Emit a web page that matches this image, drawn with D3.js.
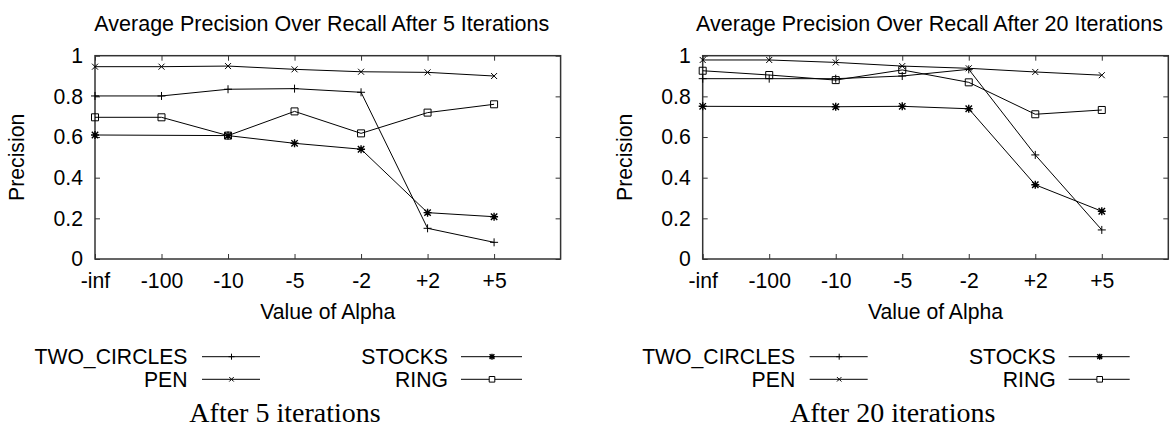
<!DOCTYPE html>
<html>
<head>
<meta charset="utf-8">
<script src="https://cdn.jsdelivr.net/npm/d3@7"></script>
<style>
  body { margin: 0; background: #fff; }
  svg { display: block; font-family: "Liberation Sans", Arial, sans-serif; }
</style>
</head>
<body>
<script>
// * DATA
const alphaLabels = ["-inf", "-100", "-10", "-5", "-2", "+2", "+5"];
const yTicks = [0, 0.2, 0.4, 0.6, 0.8, 1];
const seriesNames = ["TWO_CIRCLES", "PEN", "STOCKS", "RING"];
const seriesMarks = ["plus", "cross", "star", "square"];

// after 5 iterations (STOCKS has no -100 point)
const twoCircles5 = [0.802, 0.802, 0.835, 0.838, 0.820, 0.151, 0.082];
const pen5 = [0.946, 0.946, 0.949, 0.933, 0.921, 0.918, 0.900];
const stocks5 = [0.610, null, 0.607, 0.569, 0.540, 0.228, 0.208];
const ring5 = [0.697, 0.697, 0.607, 0.726, 0.618, 0.720, 0.761];

// after 20 iterations
const twoCircles20 = [0.887, 0.887, 0.887, 0.900, 0.933, 0.512, 0.143];
const pen20 = [0.979, 0.979, 0.967, 0.949, 0.938, 0.920, 0.904];
const stocks20 = [0.751, null, 0.749, 0.751, 0.739, 0.365, 0.235];
const ring20 = [0.926, 0.905, 0.880, 0.930, 0.869, 0.712, 0.733];

const panels = [
	{ title: "Average Precision Over Recall After 5 Iterations", caption: "After 5 iterations", left: 95, series: [twoCircles5, pen5, stocks5, ring5] },
	{ title: "Average Precision Over Recall After 20 Iterations", caption: "After 20 iterations", left: 702.7, series: [twoCircles20, pen20, stocks20, ring20] },
];

const w = 1176;
const h = 427;
const plotW = 465.6;
const plotTop = 55.7;
const plotBottom = 259;
const fs = 21.2;
const sansFont = "Liberation Sans, Arial, sans-serif";
const serifFont = "Liberation Serif, Times New Roman, serif";

const svg = d3.select("body").append("svg").attr("width", w).attr("height", h);

// marker path, s = half size
function markerPath(type, x, y, s) {
	const p = d3.path();
	if (type === "plus" || type === "star") {
		p.moveTo(x - s, y); p.lineTo(x + s, y);
		p.moveTo(x, y - s); p.lineTo(x, y + s);
	}
	if (type === "cross" || type === "star") {
		const c = type === "star" ? s * 0.8 : s * 0.75;
		p.moveTo(x - c, y - c); p.lineTo(x + c, y + c);
		p.moveTo(x - c, y + c); p.lineTo(x + c, y - c);
	}
	if (type === "square") {
		p.rect(x - s, y - s, 2 * s, 2 * s);
	}
	return p.toString();
}

panels.forEach((panel) => {
	const g = svg.append("g").attr("transform", "translate(" + panel.left + ",0)");

	// * SCALES
	const xScale = d3.scaleLinear().domain([0, 7]).range([0, plotW]);
	const yScale = d3.scaleLinear().domain([0, 1]).range([plotBottom, plotTop]);
	const idx = d3.range(alphaLabels.length);

	// * AXES (gnuplot style: inward ticks, mirrored)
	const xAxis = d3.axisBottom(xScale).tickValues(idx).tickSize(-5).tickPadding(14)
		.tickFormat((d) => alphaLabels[d]);
	const xAxisTop = d3.axisTop(xScale).tickValues(idx).tickSize(-5).tickFormat("");
	const yAxis = d3.axisLeft(yScale).tickValues(yTicks).tickSize(-5).tickPadding(12)
		.tickFormat((d) => d3.format("")(d));
	const yAxisRight = d3.axisRight(yScale).tickValues(yTicks).tickSize(-5).tickFormat("");

	g.append("g").attr("transform", "translate(0," + plotBottom + ")").call(xAxis);
	g.append("g").attr("transform", "translate(0," + plotTop + ")").call(xAxisTop);
	g.append("g").call(yAxis);
	g.append("g").attr("transform", "translate(" + plotW + ",0)").call(yAxisRight);
	g.selectAll(".domain").remove();
	g.selectAll(".tick line").attr("stroke", "#333").attr("stroke-width", 1);
	g.selectAll(".tick text").attr("font-size", fs).attr("font-family", sansFont).attr("fill", "#000");

	g.append("rect")
		.attr("x", 0).attr("y", plotTop)
		.attr("width", plotW).attr("height", plotBottom - plotTop)
		.attr("fill", "none").attr("stroke", "#333").attr("stroke-width", 1.5);

	// * LINES + MARKERS
	const line = d3.line().x((d) => xScale(d[0])).y((d) => yScale(d[1]));
	panel.series.forEach((vals, si) => {
		const pts = vals.map((v, i) => [i, v]).filter((d) => d[1] !== null);
		g.append("path").datum(pts).attr("d", line)
			.attr("fill", "none").attr("stroke", "#000").attr("stroke-width", 1);
		g.selectAll(null).data(pts).enter().append("path")
			.attr("d", (d) => markerPath(seriesMarks[si], xScale(d[0]), yScale(d[1]), si === 3 ? 3.5 : 4))
			.attr("fill", "none").attr("stroke", "#000")
			.attr("stroke-width", si === 2 ? 1.4 : 1);
	});

	// * TEXTS
	g.append("text")
		.attr("x", plotW / 2 - 6).attr("y", 31)
		.attr("text-anchor", "middle").attr("font-size", 21.5)
		.text(panel.title);
	g.append("text")
		.attr("transform", "translate(" + (-78) + "," + ((plotTop + plotBottom) / 2) + ") rotate(-90)")
		.attr("dy", "0.35em")
		.attr("text-anchor", "middle").attr("font-size", fs)
		.text("Precision");
	g.append("text")
		.attr("x", plotW / 2).attr("y", 319)
		.attr("text-anchor", "middle").attr("font-size", fs)
		.text("Value of Alpha");

	// * LEGEND
	const cols = [{ tx: 92.5, l0: 107, l1: 165, m: 136.5 }, { tx: 353, l0: 366, l1: 427, m: 397 }];
	const rows = [356.7, 379.3];
	seriesNames.forEach((name, si) => {
		const c = cols[Math.floor(si / 2)];
		const ry = rows[si % 2];
		g.append("text")
			.attr("x", c.tx).attr("y", ry + 7.5)
			.attr("text-anchor", "end").attr("font-size", fs)
			.text(name);
		g.append("line")
			.attr("x1", c.l0).attr("x2", c.l1).attr("y1", ry).attr("y2", ry)
			.attr("stroke", "#000").attr("stroke-width", 1);
		g.append("path")
			.attr("d", markerPath(seriesMarks[si], c.m, ry, si === 3 ? 2.8 : 3))
			.attr("fill", si === 3 ? "#fff" : "none").attr("stroke", "#000")
			.attr("stroke-width", si === 2 ? 1.4 : 1);
	});

	// * CAPTION
	g.append("text")
		.attr("x", 190).attr("y", 422)
		.attr("text-anchor", "middle")
		.attr("font-family", serifFont)
		.attr("font-size", 28)
		.text(panel.caption);
});
</script>
</body>
</html>
